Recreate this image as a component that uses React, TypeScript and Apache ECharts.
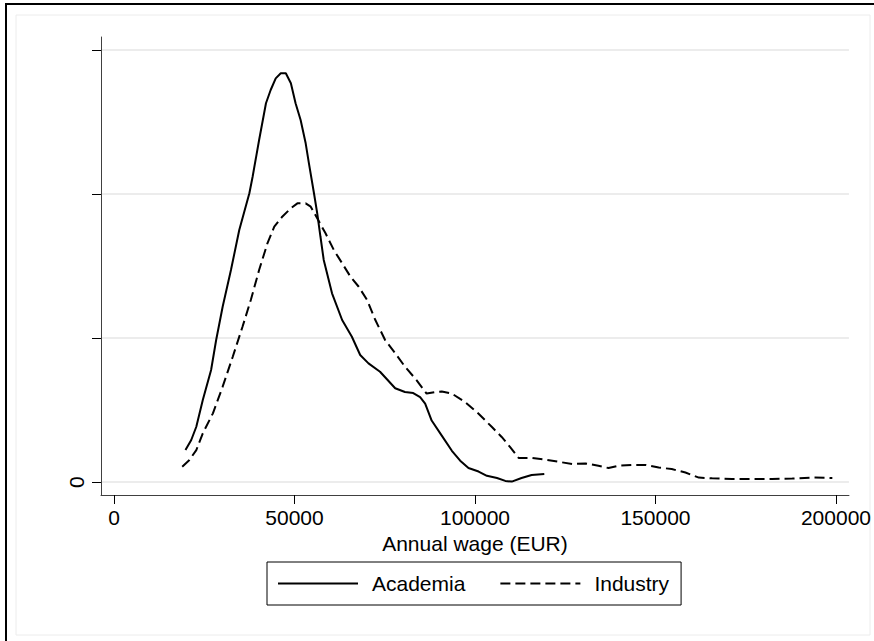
import React, { useEffect, useRef } from "react";
import * as echarts from "echarts";

// Kernel density of annual wages (density in units of 1e-5)
const acadWage = [19800, 21400, 22800, 24600, 26900, 28300, 30100, 32400, 34700, 37500, 38400, 40200, 42100, 43400, 44800, 46200, 47600, 49000, 50300, 51700, 53100, 54000, 55400, 56300, 57200, 58100, 60400, 63200, 65900, 68200, 70500, 73700, 77900, 80600, 82900, 84800, 86200, 88000, 90800, 93600, 95900, 98200, 101000, 103300, 106100, 108400, 110200, 112900, 115700, 119200];
const acadDensity = [0.222, 0.292, 0.384, 0.569, 0.778, 0.986, 1.217, 1.472, 1.75, 2.005, 2.12, 2.375, 2.63, 2.722, 2.803, 2.838, 2.838, 2.769, 2.63, 2.514, 2.352, 2.213, 2.005, 1.866, 1.703, 1.542, 1.31, 1.125, 1.009, 0.882, 0.824, 0.766, 0.651, 0.625, 0.618, 0.59, 0.544, 0.427, 0.322, 0.217, 0.148, 0.097, 0.073, 0.043, 0.028, 0.008, 0.003, 0.028, 0.049, 0.056];

const indWage = [18900, 20900, 22800, 24600, 27400, 30100, 32900, 35600, 37900, 40200, 42500, 44400, 46600, 49000, 50800, 53100, 54500, 56300, 58600, 60900, 63200, 65500, 67800, 70100, 72400, 75100, 77900, 80600, 83800, 86600, 89000, 90800, 93600, 97200, 101000, 104700, 107400, 109800, 112100, 115700, 119500, 123100, 126900, 130600, 134200, 137000, 139800, 143500, 147200, 150900, 154500, 158300, 162000, 165700, 171200, 176800, 182300, 187900, 193400, 199000];
const indDensity = [0.106, 0.153, 0.222, 0.338, 0.477, 0.662, 0.87, 1.078, 1.264, 1.472, 1.657, 1.773, 1.842, 1.901, 1.935, 1.935, 1.912, 1.831, 1.727, 1.611, 1.519, 1.426, 1.356, 1.264, 1.125, 0.986, 0.894, 0.801, 0.708, 0.614, 0.625, 0.628, 0.614, 0.556, 0.474, 0.382, 0.313, 0.241, 0.167, 0.167, 0.155, 0.141, 0.125, 0.129, 0.113, 0.097, 0.113, 0.119, 0.119, 0.101, 0.09, 0.066, 0.031, 0.026, 0.021, 0.021, 0.021, 0.024, 0.031, 0.028];

const xTicks = [0, 50000, 100000, 150000, 200000];
const yTicks = [0, 1, 2, 3];
const yTickLabels = [0];
const seriesNames = ["Academia", "Industry"];
const xTitle = "Annual wage (EUR)";

const FONT = "'Liberation Sans', Arial, Helvetica, sans-serif";

export default function App() {
  const ref = useRef<HTMLDivElement>(null);
  useEffect(() => {
    if (!ref.current) return;
    const chart = echarts.init(ref.current, null, { renderer: "svg" });
    const acad = acadWage.map((w, i) => [w, acadDensity[i]]);
    const ind = indWage.map((w, i) => [w, indDensity[i]]);
    chart.setOption({
      animation: false,
      backgroundColor: "#ffffff",
      textStyle: { fontFamily: FONT },
      graphic: [
        {
          type: "rect",
          shape: { x: 16, y: 15, width: 854, height: 620 },
          style: { fill: "none", stroke: "#ececec", lineWidth: 1 },
          silent: true,
          z: -10,
        },
        {
          type: "rect",
          shape: { x: 6, y: 4, width: 1000, height: 800 },
          style: { fill: "none", stroke: "#000000", lineWidth: 2 },
          silent: true,
          z: -10,
        },
      ],
      grid: { left: 101, right: 24, top: 37, bottom: 146, containLabel: false },
      xAxis: {
        type: "value",
        min: -3600,
        max: 203600,
        name: xTitle,
        nameLocation: "middle",
        nameGap: 29,
        nameTextStyle: { fontSize: 21, color: "#000", fontFamily: FONT },
        axisLine: { show: true, onZero: false, lineStyle: { color: "#404040", width: 1 } },
        axisTick: { show: true, customValues: xTicks, length: 9, lineStyle: { color: "#000", width: 1 } },
        axisLabel: {
          customValues: xTicks,
          fontSize: 21,
          color: "#000",
          fontFamily: FONT,
          margin: 12,
          formatter: (v: number) => String(v),
        },
        splitLine: { show: false },
      },
      yAxis: {
        type: "value",
        min: -0.09,
        max: 3.09,
        axisLine: { show: true, onZero: false, lineStyle: { color: "#404040", width: 1 } },
        axisTick: { show: true, customValues: yTicks, length: 9, lineStyle: { color: "#000", width: 1 } },
        axisLabel: {
          customValues: yTickLabels,
          rotate: 90,
          fontSize: 21,
          color: "#000",
          fontFamily: FONT,
          margin: 14,
          formatter: (v: number) => String(v),
        },
        splitLine: { show: true, lineStyle: { color: "#e6e6e6", width: 1.5 } },
      },
      legend: {
        left: 267,
        top: 562,
        padding: [11, 12, 11, 10],
        borderColor: "#000",
        borderWidth: 1,
        itemWidth: 80,
        itemHeight: 14,
        itemGap: 34,
        data: seriesNames,
        itemStyle: { opacity: 0 },
        textStyle: { fontSize: 21, color: "#000", fontFamily: FONT, padding: [0, 0, 0, 9] },
      },
      series: [
        {
          name: seriesNames[0],
          type: "line",
          data: acad,
          showSymbol: false,
          symbol: "none",
          lineStyle: { color: "#000", width: 2, type: "solid" },
          itemStyle: { color: "#000" },
        },
        {
          name: seriesNames[1],
          type: "line",
          data: ind,
          showSymbol: false,
          symbol: "none",
          lineStyle: { color: "#000", width: 2, type: [10, 5] },
          itemStyle: { color: "#000" },
        },
      ],
    });
    return () => chart.dispose();
  }, []);
  return (
    <div
      ref={ref}
      style={{ position: "fixed", left: 0, top: 0, width: 874, height: 641, background: "#fff" }}
    />
  );
}
